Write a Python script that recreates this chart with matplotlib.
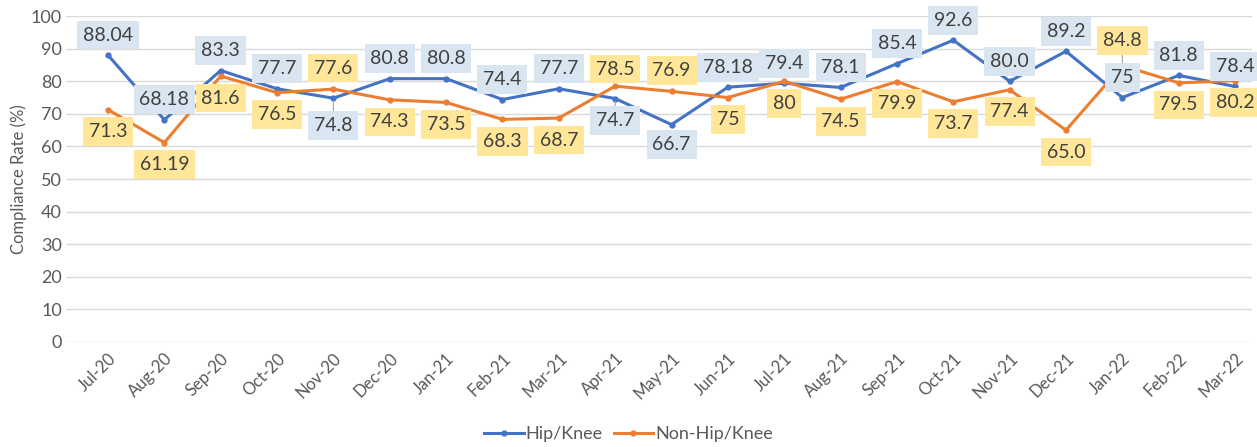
import matplotlib
matplotlib.use("Agg")
import matplotlib.pyplot as plt
import matplotlib.transforms as mtransforms

months = ["Jul-20", "Aug-20", "Sep-20", "Oct-20", "Nov-20", "Dec-20", "Jan-21",
          "Feb-21", "Mar-21", "Apr-21", "May-21", "Jun-21", "Jul-21", "Aug-21",
          "Sep-21", "Oct-21", "Nov-21", "Dec-21", "Jan-22", "Feb-22", "Mar-22"]
hip_knee = [88.04, 68.18, 83.3, 77.7, 74.8, 80.8, 80.8, 74.4, 77.7, 74.7, 66.7,
            78.18, 79.4, 78.1, 85.4, 92.6, 80.0, 89.2, 75, 81.8, 78.4]
hip_knee_labels = ["88.04", "68.18", "83.3", "77.7", "74.8", "80.8", "80.8", "74.4",
                   "77.7", "74.7", "66.7", "78.18", "79.4", "78.1", "85.4", "92.6",
                   "80.0", "89.2", "75", "81.8", "78.4"]
non_hip_knee = [71.3, 61.19, 81.6, 76.5, 77.6, 74.3, 73.5, 68.3, 68.7, 78.5, 76.9,
                75, 80, 74.5, 79.9, 73.7, 77.4, 65.0, 84.8, 79.5, 80.2]
non_hip_knee_labels = ["71.3", "61.19", "81.6", "76.5", "77.6", "74.3", "73.5", "68.3",
                       "68.7", "78.5", "76.9", "75", "80", "74.5", "79.9", "73.7",
                       "77.4", "65.0", "84.8", "79.5", "80.2"]
yticks = list(range(0, 101, 10))

# label placement (pixel offsets, + = up)
hip_dy = [20] * 21
hip_dy[4] = -27
hip_dy[9] = -22
hip_dy[10] = -20
non_dy = [-22] * 21
non_dy[4] = 21
non_dy[9] = 17
non_dy[10] = 21
non_dy[18] = 25
leaders = {("h", 4), ("h", 9), ("n", 18)}

BLUE = "#4472C4"
ORANGE = "#ED7D31"
FONT = ["Lato", "DejaVu Sans"]
plt.rcParams["font.family"] = FONT

fig = plt.figure(figsize=(12.57, 4.47), dpi=100)
ax = fig.add_axes([0.0525, 0.235, 0.9435, 0.729])

x = list(range(len(months)))
ax.plot(x, hip_knee, color=BLUE, lw=2.2, marker="o", ms=3.5, label="Hip/Knee", zorder=3)
ax.plot(x, non_hip_knee, color=ORANGE, lw=2.2, marker="o", ms=3.5, label="Non-Hip/Knee", zorder=3)

def put_labels(vals, labels, dys, face, key):
    for i, (v, t, dy) in enumerate(zip(vals, labels, dys)):
        lead = (key, i) in leaders
        ax.annotate(t, xy=(i, v), xytext=(0, dy * 0.72), textcoords="offset points",
                    ha="center", va="center", fontsize=14, color="#404040",
                    bbox=dict(boxstyle="square,pad=0.3", fc=face, ec="none"),
                    arrowprops=(dict(arrowstyle="-", color="#A6A6A6", lw=0.8,
                                     shrinkA=0, shrinkB=2) if lead else None),
                    zorder=4)

put_labels(hip_knee, hip_knee_labels, hip_dy, "#DAE5F2", "h")
put_labels(non_hip_knee, non_hip_knee_labels, non_dy, "#FFE699", "n")

ax.set_xlim(-0.745, 20.3)
ax.set_ylim(0, 100)
ax.set_yticks(yticks)
ax.set_yticklabels([str(t) for t in yticks], fontsize=13, color="#595959")
ax.set_xticks(x)
ax.set_xticklabels(months, rotation=45, ha="right", rotation_mode="anchor",
                   fontsize=12, color="#595959")
shift = mtransforms.ScaledTranslation(-8 / 100, 0, fig.dpi_scale_trans)
for lab in ax.get_xticklabels():
    lab.set_transform(lab.get_transform() + shift)
ax.tick_params(axis="both", length=0)
ax.tick_params(axis="y", pad=3)
ax.tick_params(axis="x", pad=6)
ax.grid(axis="y", color="#D9D9D9", lw=1)
ax.set_axisbelow(True)
for s in ax.spines.values():
    s.set_visible(False)
ax.set_ylabel("Compliance Rate (%)", fontsize=12, color="#595959", labelpad=3)

fig.legend(loc="lower center", bbox_to_anchor=(0.5, -0.025), ncol=2, frameon=False,
           fontsize=13, handlelength=2.2, handletextpad=0.1, columnspacing=0.6,
           labelcolor="#595959")

fig.savefig("out.png", dpi=100)
